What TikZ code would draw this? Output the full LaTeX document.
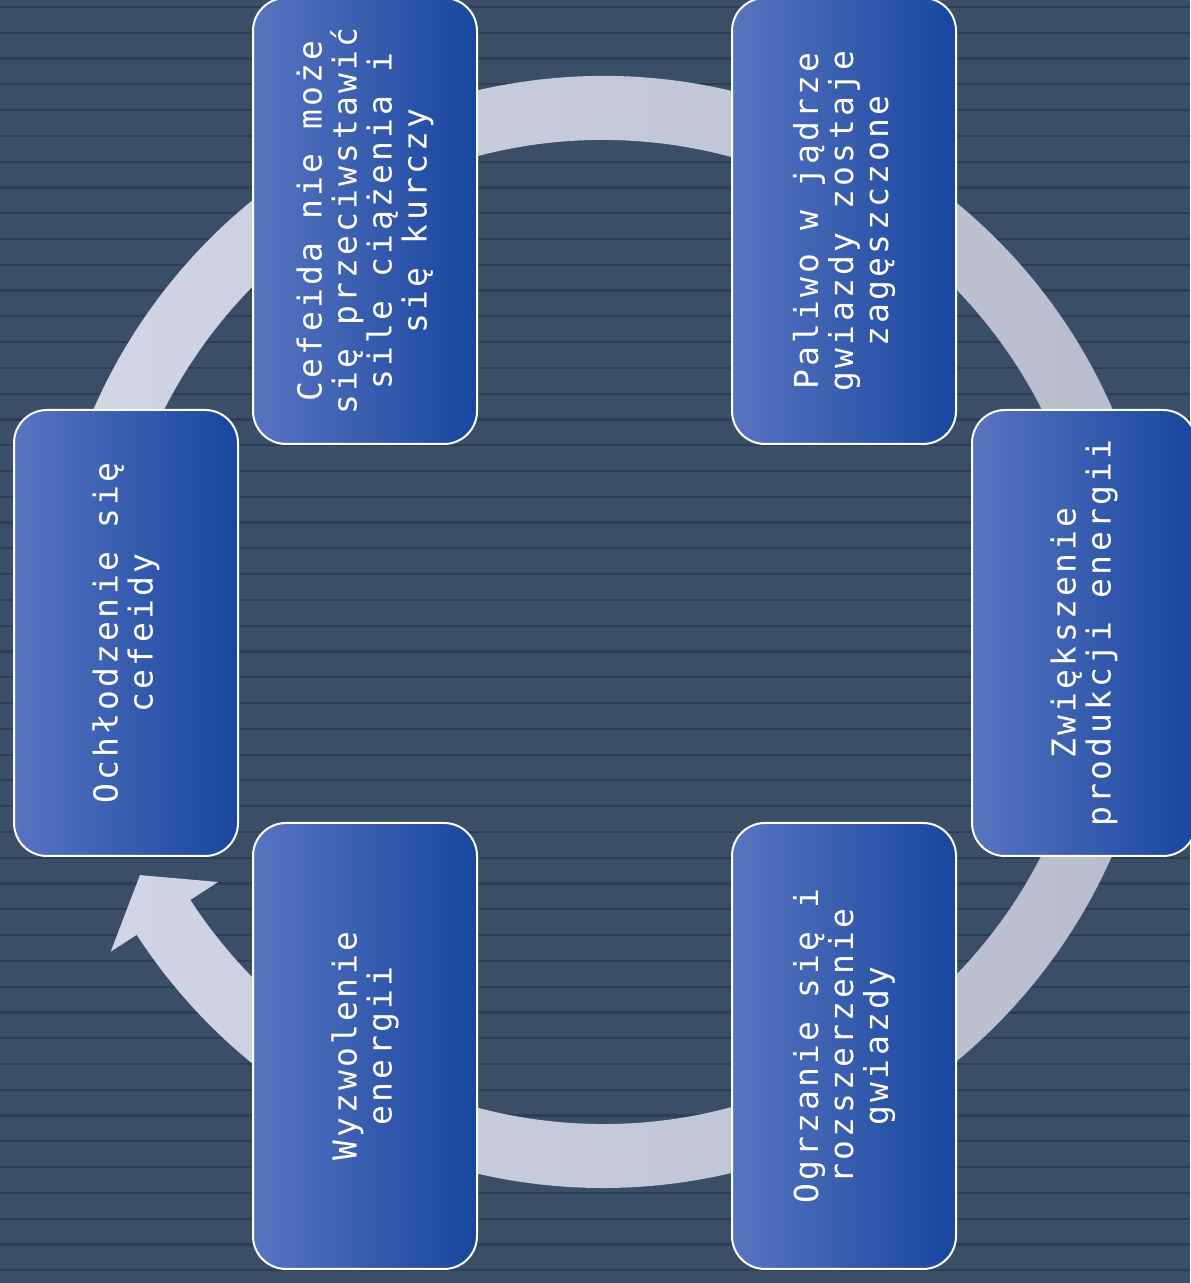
\documentclass[tikz,border=0pt]{standalone}
\usepackage{fontspec}
\newfontfamily\boxfont[LetterSpace=10]{DejaVu Sans Mono}
\begin{document}
\begin{tikzpicture}[x=0.5pt, y=0.5pt, line join=round,
  cyclebox/.style={rotate=90, rounded corners=16.5pt, draw=white, line width=1pt,
    left color=boxlight, middle color=boxmid, right color=boxdark, minimum width=223pt, minimum height=112pt,
    inner sep=0pt, text=white, align=center, font=\boxfont\fontsize{16.5}{17.5}\selectfont}]
  \definecolor{bgblue}{RGB}{58,78,103}
  \definecolor{stripeblue}{RGB}{44,62,86}
  \definecolor{ringlight}{RGB}{211,215,231}
  \definecolor{ringgray}{RGB}{183,186,203}
  \definecolor{boxlight}{RGB}{88,116,192}
  \definecolor{boxmid}{RGB}{62,96,178}
  \definecolor{boxdark}{RGB}{24,70,158}
  \useasboundingbox (0,0) rectangle (1190,1283);
  \fill[bgblue] (0,0) rectangle (1190,1283);
  \foreach \k in {0,...,49}
    \draw[stripeblue, line width=1.1pt] (0,{1276-25.78*\k}) -- (1190,{1276-25.78*\k});
  \shade[left color=ringlight, right color=ringgray, shift={(603,651)}]
    (190:556) arc[start angle=190, end angle=-147, radius=556]
    -- (-147:587) -- (-152.3:523) -- (-147:459) -- (-147:492)
    arc[start angle=-147, end angle=190, radius=492] -- cycle;
  \node[cyclebox] (cefeida) at (365,1062) {Cefeida nie może\\się przeciwstawić\\sile ciążenia i\\się kurczy};
  \node[cyclebox] (paliwo) at (844,1062) {Paliwo w jądrze\\gwiazdy zostaje\\zagęszczone};
  \node[cyclebox] (zwiekszenie) at (1084,650) {Zwiększenie\\produkcji energii};
  \node[cyclebox] (ogrzanie) at (844,237) {Ogrzanie się i\\rozszerzenie\\gwiazdy};
  \node[cyclebox] (wyzwolenie) at (365,237) {Wyzwolenie\\energii};
  \node[cyclebox] (ochlodzenie) at (126,650) {Ochłodzenie się\\cefeidy};
\end{tikzpicture}
\end{document}
